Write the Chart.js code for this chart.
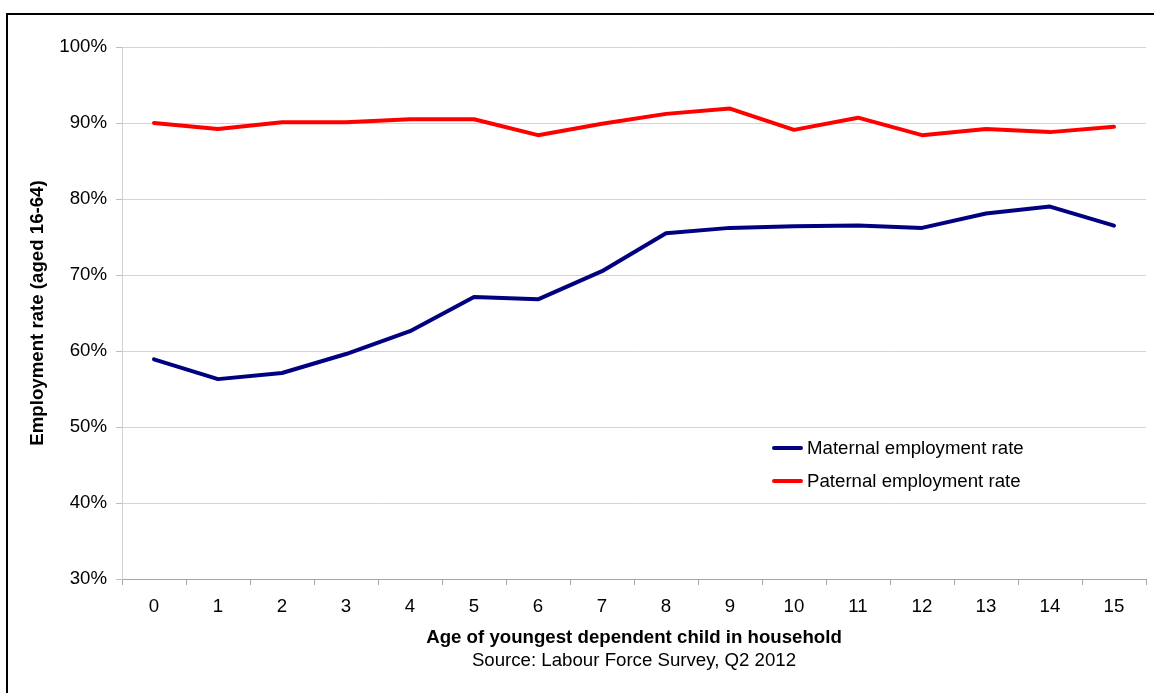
<!DOCTYPE html>
<html>
<head>
<meta charset="utf-8">
<script src="https://cdn.jsdelivr.net/npm/chart.js@4.4.0/dist/chart.umd.min.js"></script>
<style>
  html, body { margin: 0; padding: 0; background: #fff; }
  #wrap { position: relative; width: 1154px; height: 693px; overflow: hidden; font-family: "Liberation Sans", Arial, sans-serif; }
  #c { position: absolute; left: 0; top: 0; }
  #frame { position: absolute; left: 6px; top: 13px; width: 1200px; height: 800px; border: 2px solid #000; pointer-events: none; box-sizing: border-box; }
  #source { position: absolute; left: 122px; width: 1024px; top: 648px; text-align: center; font-size: 18.67px; color: #000; line-height: 24px; }
  #legend { position: absolute; left: 772px; top: 431px; font-size: 18.67px; color: #000; }
  .li { display: flex; align-items: center; height: 33px; }
  .sw { width: 31px; height: 4px; border-radius: 2px; margin-right: 4px; }
</style>
</head>
<body>
<div id="wrap">
  <canvas id="c" width="1154" height="693"></canvas>
  <div id="frame"></div>
  <div id="legend"></div>
  <div id="source">Source: Labour Force Survey, Q2 2012</div>
</div>
<script>
const categories = ["0","1","2","3","4","5","6","7","8","9","10","11","12","13","14","15"];
const maternalRate = [58.9, 56.3, 57.1, 59.6, 62.6, 67.1, 66.8, 70.5, 75.5, 76.2, 76.4, 76.5, 76.2, 78.1, 79.0, 76.5];
const paternalRate = [90.0, 89.2, 90.1, 90.1, 90.5, 90.5, 88.4, 89.9, 91.2, 91.9, 89.1, 90.7, 88.4, 89.2, 88.8, 89.5];
const seriesNames = ["Maternal employment rate", "Paternal employment rate"];
const seriesColors = ["#000080", "#ff0000"];
const yTicks = [30, 40, 50, 60, 70, 80, 90, 100];

const FONT = "'Liberation Sans', Arial, sans-serif";

const chart = new Chart(document.getElementById('c'), {
  type: 'line',
  data: {
    labels: categories,
    datasets: [
      { label: seriesNames[0], data: maternalRate, borderColor: seriesColors[0], backgroundColor: seriesColors[0], borderWidth: 4, pointRadius: 0, tension: 0, borderCapStyle: 'round', borderJoinStyle: 'round' },
      { label: seriesNames[1], data: paternalRate, borderColor: seriesColors[1], backgroundColor: seriesColors[1], borderWidth: 4, pointRadius: 0, tension: 0, borderCapStyle: 'round', borderJoinStyle: 'round' }
    ]
  },
  options: {
    responsive: false,
    animation: false,
    devicePixelRatio: 1,
    layout: { padding: { top: 47, right: 8, left: 0, bottom: 0 } },
    plugins: { legend: { display: false }, tooltip: { enabled: false } },
    scales: {
      x: {
        type: 'category',
        offset: true,
        grid: { drawOnChartArea: false, offset: true, tickLength: 6, color: '#a6a6a6', tickColor: '#a6a6a6' },
        border: { color: '#a6a6a6', width: 1 },
        ticks: { color: '#000', font: { family: FONT, size: 18.67 }, padding: 11, maxRotation: 0, autoSkip: false },
        title: { display: true, text: 'Age of youngest dependent child in household', color: '#000', font: { family: FONT, size: 18.67, weight: 'bold' }, padding: { top: 0, bottom: 44 } },
        afterFit: s => { s.height = 114; }
      },
      y: {
        min: 30, max: 100,
        afterBuildTicks: s => { s.ticks = yTicks.map(v => ({ value: v })); },
        grid: { color: '#d4d4d4', tickColor: '#bdbdbd', tickLength: 6 },
        border: { color: '#cfcfcf', width: 1 },
        ticks: { color: '#000', font: { family: FONT, size: 18.67 }, padding: 9, callback: v => v + '%' },
        title: { display: true, text: 'Employment rate (aged 16-64)', color: '#000', font: { family: FONT, size: 18.67, weight: 'bold' }, padding: { top: 27, bottom: 0 } },
        afterFit: s => { s.width = 122; }
      }
    }
  }
});

const legendEl = document.getElementById('legend');
chart.data.datasets.forEach(ds => {
  const row = document.createElement('div');
  row.className = 'li';
  const sw = document.createElement('span');
  sw.className = 'sw';
  sw.style.background = ds.borderColor;
  const tx = document.createElement('span');
  tx.textContent = ds.label;
  row.appendChild(sw);
  row.appendChild(tx);
  legendEl.appendChild(row);
});
</script>
</body>
</html>
